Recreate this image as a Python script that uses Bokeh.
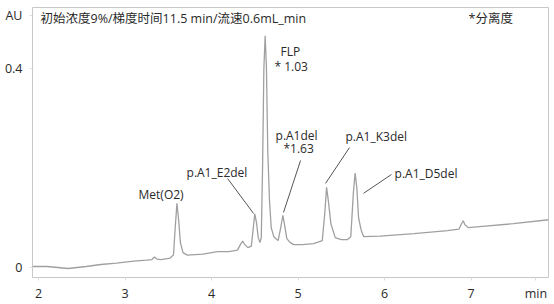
from bokeh.plotting import figure
from bokeh.models import Range1d, FixedTicker, Label
from bokeh.embed import file_html
from bokeh.resources import INLINE

# ---- data ----
time_min = [1.93, 2.10, 2.34, 2.55, 2.72, 2.90, 3.10, 3.25, 3.31, 3.34, 3.37, 3.42,
            3.52, 3.56, 3.58, 3.60, 3.62, 3.64, 3.67, 3.72, 3.90, 4.07, 4.20, 4.30,
            4.34, 4.36, 4.38, 4.42, 4.46, 4.48, 4.50, 4.52, 4.54, 4.56, 4.575, 4.59,
            4.605, 4.62, 4.635, 4.65, 4.67, 4.69, 4.72, 4.77, 4.80, 4.825, 4.85, 4.87,
            4.91, 4.95, 5.05, 5.18, 5.28, 5.31, 5.33, 5.35, 5.38, 5.43, 5.50, 5.57,
            5.61, 5.64, 5.66, 5.68, 5.70, 5.73, 5.76, 5.95, 6.34, 6.73, 6.86, 6.89,
            6.91, 6.93, 6.97, 7.10, 7.49, 7.90]
absorbance_au = [0.002, 0.002, -0.002, 0.002, 0.006, 0.009, 0.013, 0.015, 0.016, 0.021, 0.017, 0.016,
                 0.019, 0.025, 0.080, 0.129, 0.095, 0.050, 0.030, 0.025, 0.027, 0.032, 0.032, 0.035,
                 0.048, 0.053, 0.047, 0.040, 0.043, 0.075, 0.108, 0.090, 0.060, 0.050, 0.060, 0.200,
                 0.400, 0.466, 0.400, 0.235, 0.135, 0.080, 0.062, 0.054, 0.080, 0.105, 0.080, 0.058,
                 0.050, 0.046, 0.046, 0.048, 0.054, 0.110, 0.161, 0.135, 0.088, 0.060, 0.056, 0.056,
                 0.062, 0.150, 0.190, 0.160, 0.100, 0.075, 0.062, 0.063, 0.068, 0.074, 0.077, 0.088,
                 0.094, 0.086, 0.080, 0.082, 0.088, 0.096]

x_ticks = [2, 3, 4, 5, 6, 7]
y_ticks = [0, 0.4]
y_tick_labels = ["0", "0.4"]

title_text = "初始浓度9%/梯度时间11.5 min/流速0.6mL_min"
note_text = "*分离度"
y_unit = "AU"
x_unit = "min"
peak_names = ["Met(O2)", "p.A1_E2del", "FLP", "* 1.03", "p.A1del", "*1.63", "p.A1_K3del", "p.A1_D5del"]

# ---- layout (annotation positions in data units) ----
label_pos = [(3.156, 0.147), (3.711, 0.191), (4.798, 0.434), (4.728, 0.404),
             (4.740, 0.265), (4.832, 0.239), (5.549, 0.263), (6.116, 0.189)]
leaders = [((4.185, 4.486), (0.179, 0.1085)),
           ((5.029, 4.832), (0.215, 0.1106)),
           ((5.595, 5.318), (0.241, 0.169)),
           ((6.081, 5.757), (0.187, 0.149))]
x_unit_pos = 7.75     # unit label placed in the x tick-label row
y_unit_pos = 0.5065   # unit label placed in the y tick-label column

FONT = "'Open Sans', 'Noto Sans CJK SC'"
TXT = "#2a2a2a"

p = figure(width=554, height=304, output_backend="svg", toolbar_location=None,
           x_range=Range1d(1.93, 7.896), y_range=Range1d(-0.0201, 0.5226),
           min_border_left=32, min_border_right=6, min_border_top=7, min_border_bottom=27)
p.background_fill_color = "white"
p.border_fill_color = "white"
p.outline_line_color = "#c8c8c8"
p.outline_line_width = 1
p.xgrid.grid_line_color = None
p.ygrid.grid_line_color = None

for ax in (p.xaxis[0], p.yaxis[0]):
    ax.axis_line_color = None
    ax.major_tick_line_color = "#dcdcdc"
    ax.major_tick_out = 3
    ax.major_tick_in = 0
    ax.minor_tick_line_color = None
    ax.major_label_text_font = FONT
    ax.major_label_text_font_size = "12.5px"
    ax.major_label_text_color = TXT

p.xaxis.ticker = FixedTicker(ticks=x_ticks + [x_unit_pos])
p.xaxis.major_label_overrides = {x_unit_pos: x_unit}
p.xaxis.major_label_standoff = 4
p.yaxis.ticker = FixedTicker(ticks=y_ticks + [y_unit_pos])
ylab = {t: s for t, s in zip(y_ticks, y_tick_labels)}
ylab[y_unit_pos] = y_unit
p.yaxis.major_label_overrides = ylab
p.yaxis.major_label_standoff = 7

p.line(time_min, absorbance_au, line_color="#a0a0a0", line_width=1.3)

for (xs, ys) in leaders:
    p.line(list(xs), list(ys), line_color="#555555", line_width=1)

for name, (lx, ly) in zip(peak_names, label_pos):
    p.add_layout(Label(x=lx, y=ly, text=name, text_font=FONT, text_font_size="12px",
                       text_color=TXT, text_align="left", text_baseline="middle"))

p.add_layout(Label(x=2.023, y=0.5005, text=title_text, text_font=FONT, text_font_size="12.5px",
                   text_color=TXT, text_align="left", text_baseline="middle"))
p.add_layout(Label(x=6.971, y=0.5005, text=note_text, text_font=FONT, text_font_size="12.5px",
                   text_color=TXT, text_align="left", text_baseline="middle"))

open("out.html", "w").write(file_html(p, INLINE))
